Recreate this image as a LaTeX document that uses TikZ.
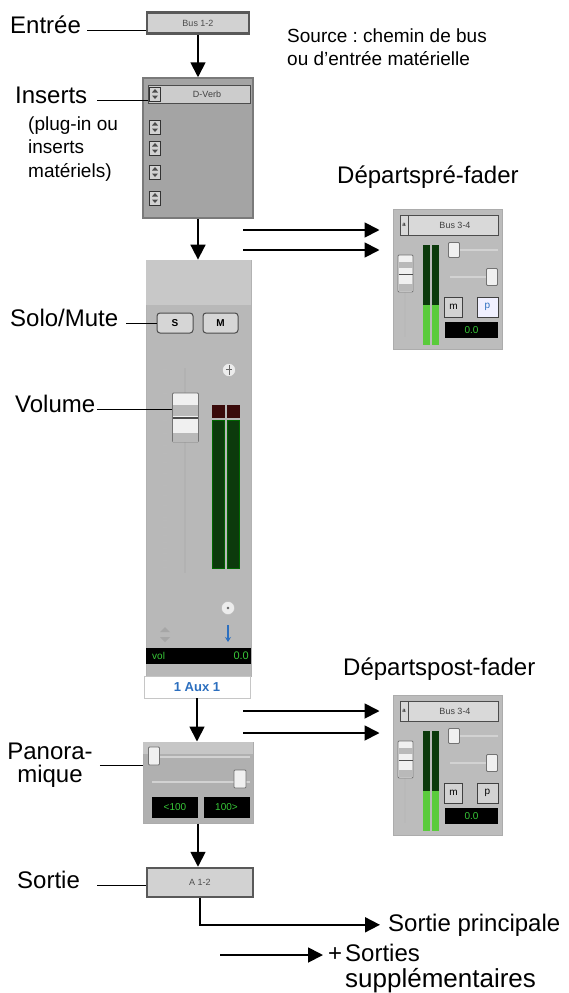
\documentclass[tikz,border=0pt]{standalone}
\usepackage{fontspec}
\setmainfont{Liberation Sans}
\usepackage{xcolor}
\usepackage{tikz}
\usetikzlibrary{arrows.meta}
\frenchspacing

\definecolor{panelgray}{HTML}{A4A4A4}
\definecolor{stripgray}{HTML}{B8B8B8}
\definecolor{bandgray}{HTML}{C8C8C8}
\definecolor{sendgray}{HTML}{BCBCBC}
\definecolor{edgegray}{HTML}{7A7A7A}
\definecolor{btngray}{HTML}{D6D6D6}
\definecolor{metergreen}{HTML}{0C3A0C}
\definecolor{meterlit}{HTML}{5ACB3C}
\definecolor{meterred}{HTML}{3A0A0A}
\definecolor{lcdgreen}{HTML}{38C838}
\definecolor{auxblue}{HTML}{2C6FBF}

\tikzset{
  lbl/.style={font=\fontsize{24}{23}\selectfont, inner sep=0pt},
  smalllbl/.style={font=\fontsize{19}{23}\selectfont, inner sep=0pt},
  lead/.style={line width=1pt},
  flow/.style={->, line width=1.8pt},
  busbox/.style={rectangle, draw=gray!70!black, line width=2.5pt, fill=gray!35,
                 inner sep=0pt, text=black!70, font=\fontsize{9}{9}\selectfont},
  button/.style={rectangle, rounded corners=3pt, draw=black!70, line width=1pt,
                 fill=btngray, inner sep=0pt, font=\fontsize{10}{10}\selectfont\bfseries},
  lcd/.style={rectangle, fill=black, inner sep=0pt, text=lcdgreen,
              font=\fontsize{10}{10}\selectfont},
  knob/.style={rectangle, draw=black!55, fill=gray!12, line width=0.8pt,
               rounded corners=1pt, inner sep=0pt},
  updown/.style={rectangle, draw=gray!40!black, fill=gray!35, line width=0.8pt,
                 minimum width=11pt, minimum height=14pt, inner sep=0pt},
}

% one send panel: #1 = vertical shift, #2 = name, #3 = fill of p, #4 = colour of p
\newcommand{\sendpanel}[4]{%
  \begin{scope}[shift={(0,#1)}]
    \node[rectangle, fill=sendgray, draw=gray!65, line width=1pt,
          minimum width=109pt, minimum height=140pt, inner sep=0pt] (#2) at (447.5,279) {};
    \node[rectangle, draw=gray!60!black, fill=gray!30, line width=1pt,
          minimum width=98pt, minimum height=20pt, inner sep=0pt] (#2bus) at (449,225) {};
    \draw[gray!60!black, line width=0.8pt] (408,215) -- (408,235);
    \node[inner sep=0pt, font=\fontsize{6}{6}\selectfont] at (404,225) {a};
    \node[inner sep=0pt, font=\fontsize{9}{9}\selectfont, text=black!75] at (455,225) {Bus 3-4};
    % fader
    \draw[gray!55, line width=1.5pt] (405,258) -- (405,337);
    \node[knob, minimum width=15pt, minimum height=37pt] (#2fader) at (405.5,273.5) {};
    \fill[gray!55] (398.5,262) rectangle (412.5,268);
    \draw[black!70, line width=1pt] (398.5,274) -- (412.5,274);
    \fill[gray!55] (398.5,284) rectangle (412.5,291);
    % meters
    \fill[metergreen] (423,245) rectangle (430,345);
    \fill[metergreen] (432,245) rectangle (439,345);
    \fill[meterlit] (423,305) rectangle (430,345);
    \fill[meterlit] (432,305) rectangle (439,345);
    % sliders
    \draw[gray!35, line width=1.5pt] (450,250) -- (498,250);
    \node[knob, minimum width=11pt, minimum height=15pt] at (454,250) {};
    \draw[gray!35, line width=1.5pt] (450,277) -- (498,277);
    \node[knob, minimum width=11pt, minimum height=17pt] at (492,277) {};
    % buttons and display
    \node[rectangle, draw=gray!50!black, fill=gray!35, line width=1pt,
          minimum width=18pt, minimum height=20pt, inner sep=0pt,
          font=\fontsize{10}{10}\selectfont] at (453.5,307) {m};
    \node[rectangle, draw=gray!50!black, fill=#3, line width=1pt,
          minimum width=21pt, minimum height=20pt, inner sep=0pt, text=#4,
          font=\fontsize{10}{10}\selectfont] at (487.5,307) {p};
    \node[lcd, minimum width=53pt, minimum height=16pt] at (471.5,330) {0.0};
  \end{scope}}

\begin{document}
\begin{tikzpicture}[x=1pt, y=-1pt, >={Triangle[length=15pt,width=15pt]}]
\useasboundingbox (0,0) rectangle (568,993);

% input bus
\node[busbox, minimum width=102pt, minimum height=21pt] (busin) at (198,23) {Bus 1-2};

% inserts
\node[rectangle, draw=edgegray, fill=panelgray, line width=1.5pt,
      minimum width=110pt, minimum height=140pt] (inserts) at (198,148) {};
\node[rectangle, draw=gray!60!black, fill=gray!40, line width=1pt, inner sep=0pt,
      minimum width=102pt, minimum height=18pt] (dverb) at (199,94) {};
\node[inner sep=0pt, font=\fontsize{9}{9}\selectfont, text=black!75] at (207,94) {D-Verb};
\foreach \y in {94,127,148,172,198} {
  \node[updown] at (155,\y) {};
  \fill[black!70] (152,\y-1.5) -- (158,\y-1.5) -- (155,\y-5) -- cycle;
  \fill[black!70] (152,\y+1.5) -- (158,\y+1.5) -- (155,\y+5) -- cycle;
}

% channel strip
\node[rectangle, fill=stripgray, draw=gray!60, line width=0.8pt,
      minimum width=105pt, minimum height=416pt, inner sep=0pt] (strip) at (198.5,468) {};
\fill[bandgray] ([shift={(0.5pt,-0.5pt)}]strip.north west) rectangle ([shift={(-0.5pt,-45pt)}]strip.north east);
\node[button, minimum width=36pt, minimum height=20pt] (solo) at (175,323) {S};
\node[button, minimum width=35pt, minimum height=20pt] (mute) at (220.5,323) {M};
\node[circle, draw=gray!60, fill=gray!15, minimum size=13pt, inner sep=0pt] (panicon) at (229,370) {};
\draw[black!60, line width=0.8pt] (229,365) -- (229,375) (226,369) -- (232,369);

% volume fader
\draw[gray!60, line width=2pt] (185,368) -- (185,573);
\foreach \y in {369,393,420,433,445,453,462,473,485,495,505,517,520,527,535,542,548,553,560,567}
  \draw[gray!55, line width=0.8pt] (163,\y) -- (167,\y);
\node[knob, minimum width=26pt, minimum height=49pt] (fader) at (185.5,417.5) {};
\fill[gray!55] (173,405) rectangle (198,416);
\draw[black!70, line width=1.2pt] (173,418) -- (198,418);
\fill[gray!55] (173,433) rectangle (198,442);

% meters
\node[rectangle, fill=meterred, minimum width=13pt, minimum height=13pt, inner sep=0pt] at (218.5,411.5) {};
\node[rectangle, fill=meterred, minimum width=13pt, minimum height=13pt, inner sep=0pt] at (233.5,411.5) {};
\node[rectangle, fill=metergreen, draw=green!40!black, minimum width=12pt, minimum height=148pt, inner sep=0pt] (meterL) at (218.5,494) {};
\node[rectangle, fill=metergreen, draw=green!40!black, minimum width=12pt, minimum height=148pt, inner sep=0pt] (meterR) at (233.5,494) {};

% lower controls
\node[circle, draw=gray!55, fill=gray!15, minimum size=13pt, inner sep=0pt] (dot) at (228,608) {};
\fill[black!60] (228,608) circle (1.3pt);
\fill[gray!70] (160,632) -- (170,632) -- (165,627) -- cycle;
\fill[gray!70] (160,637) -- (170,637) -- (165,642) -- cycle;
\draw[auxblue, line width=1.5pt, -{Stealth[length=5pt,width=6pt]}] (228,625) -- (228,642);
\node[lcd, minimum width=105pt, minimum height=16pt] (voldisp) at (198.5,656) {};
\node[inner sep=0pt, text=lcdgreen, font=\fontsize{10}{10}\selectfont, anchor=west] at (152,656) {vol};
\node[inner sep=0pt, text=lcdgreen, font=\fontsize{11}{11}\selectfont, anchor=east] at (249,656) {0.0};
\node[rectangle, fill=white, draw=gray!45, minimum width=106pt, minimum height=22pt, inner sep=0pt,
      text=auxblue, font=\fontsize{13}{13}\selectfont\bfseries] (auxname) at (197,687) {1 Aux 1};

% panorama
\node[rectangle, draw=gray!65, fill=gray!62, line width=1pt,
      minimum width=110pt, minimum height=81pt, inner sep=0pt] (pan) at (198,782.5) {};
\fill[gray!45] ([shift={(0.5pt,-0.5pt)}]pan.north west) rectangle ([shift={(-0.5pt,-12pt)}]pan.north east);
\draw[gray!35, line width=2pt] (152,757) -- (250,757);
\draw[gray!35, line width=2pt] (152,782) -- (250,782);
\node[knob, minimum width=11pt, minimum height=18pt] at (154,756) {};
\node[knob, minimum width=12pt, minimum height=18pt] at (240,779) {};
\node[lcd, minimum width=46pt, minimum height=21pt] (panL) at (175,807.5) {<100};
\node[lcd, minimum width=46pt, minimum height=21pt] (panR) at (226.5,807.5) {100>};

% output
\node[busbox, minimum width=106pt, minimum height=29pt] (sortie) at (200,882.5) {A 1-2};

% sends
\sendpanel{0}{pre}{blue!6}{auxblue}
\sendpanel{486}{post}{gray!35}{black}

% labels
\node[lbl, anchor=base west] (lEntree) at (10,33) {Entrée};
\node[smalllbl, anchor=base west] (lSource) at (287,42) {Source : chemin de bus};
\node[smalllbl, anchor=base west] (lSourceB) at (287,65) {ou d'entrée matérielle};
\node[lbl, anchor=base west] (lInserts) at (15,103) {Inserts};
\node[smalllbl, anchor=base west] (lPlug) at (28,130) {(plug-in ou};
\node[smalllbl, anchor=base west] (lPlugB) at (28,153) {inserts};
\node[smalllbl, anchor=base west] (lPlugC) at (28,177) {matériels)};
\node[lbl, anchor=base west] (lPre) at (337,183) {Départspré-fader};
\node[lbl, anchor=base west] (lSolo) at (10,326) {Solo/Mute};
\node[lbl, anchor=base west] (lVolume) at (15,412) {Volume};
\node[lbl, anchor=base west] (lPost) at (343,675) {Départspost-fader};
\node[lbl, align=center, anchor=north] (lPan) at (50,743) {Panora-\\mique};
\node[lbl, anchor=base west] (lSortie) at (17,888) {Sortie};
\node[lbl, anchor=base west] (lMain) at (388,931) {Sortie principale};
\node[lbl, anchor=base west] (lPlus) at (328,961) {+};
\node[lbl, anchor=base west] (lSorties) at (345,961) {Sorties};
\node[lbl, anchor=base west, font=\fontsize{26}{26}\selectfont] (lSupp) at (345,987) {supplémentaires};

% leader lines
\draw[lead, shorten <=6pt] (lEntree.mid east) -- (lEntree.mid east -| busin.west);
\draw[lead, shorten <=10pt] (lInserts.mid east) -- (lInserts.mid east -| dverb.west);
\draw[lead, shorten <=8pt] (lSolo.mid east) -- (lSolo.mid east -| solo.west);
\draw[lead, shorten <=2pt] (lVolume.mid east) -- (lVolume.mid east -| fader.west);
\draw[lead, shorten <=7pt] (lPan.east) -- (lPan.east -| pan.west);
\draw[lead, shorten <=17pt] (lSortie.mid east) -- (lSortie.mid east -| sortie.west);

% signal flow
\draw[flow] (busin.south) -- (busin.south |- inserts.north);
\draw[flow] (inserts.south) -- (inserts.south |- strip.north);
\draw[flow] (auxname.south) -- (auxname.south |- pan.north);
\draw[flow] (pan.south) -- (pan.south |- sortie.north);
\draw[flow, shorten >=8pt] (sortie.south) |- (lMain.west);

\coordinate (preA) at (243,230);
\coordinate (preB) at (243,250);
\coordinate (postA) at (243,711);
\coordinate (postB) at (243,733);
\coordinate (extra) at (220,955);
\draw[flow, shorten >=13pt] (preA) -- (preA -| pre.west);
\draw[flow, shorten >=13pt] (preB) -- (preB -| pre.west);
\draw[flow, shorten >=13pt] (postA) -- (postA -| post.west);
\draw[flow, shorten >=13pt] (postB) -- (postB -| post.west);
\draw[flow, shorten >=5pt] (extra) -- (extra -| lPlus.west);

\end{tikzpicture}
\end{document}
